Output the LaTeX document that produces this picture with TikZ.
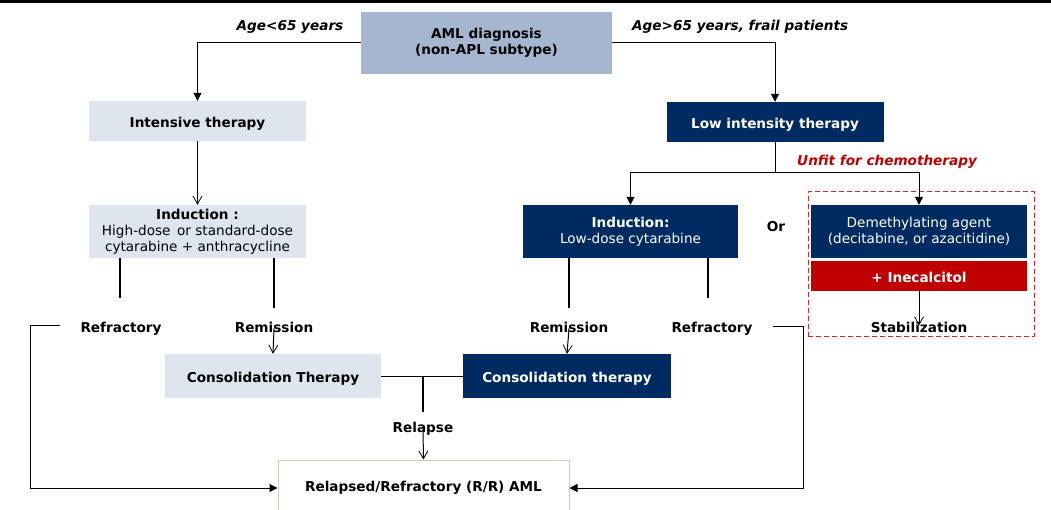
\documentclass[tikz,border=0pt]{standalone}
\usepackage{fontspec}
\setmainfont{DejaVu Sans}
\usetikzlibrary{arrows.meta,positioning}
\definecolor{amlblue}{RGB}{164,182,208}
\definecolor{lightbox}{RGB}{222,229,239}
\definecolor{navy}{RGB}{0,43,98}
\definecolor{darkred}{RGB}{192,0,0}
\definecolor{dashred}{RGB}{210,40,40}
\definecolor{tan}{RGB}{216,208,184}
\tikzset{
  base/.style={inner sep=0pt, align=center, font=\fontsize{13.6}{16}\selectfont},
  oneline/.style={text height=13pt, text depth=0pt},
  lightnode/.style={base, fill=lightbox, text=black},
  navynode/.style={base, fill=navy, text=white},
  lbl/.style={base, anchor=base, font=\fontsize{13.6}{16}\selectfont\bfseries},
  cond/.style={base, font=\fontsize{13.6}{16}\selectfont\bfseries\itshape},
  conn/.style={line width=1pt, black},
  stub/.style={line width=1.8pt, black},
  filledarrow/.style={-{Triangle[width=8pt,length=8pt]}},
  openarrow/.style={-{Straight Barb[width=9pt,length=8pt,line width=0.8pt]}}
}
\begin{document}
\begin{tikzpicture}[x=1pt,y=-1pt]
\useasboundingbox (0,0) rectangle (1051,510);
\fill[white] (0,0) rectangle (1051,510);
\draw[line width=3pt] (0,1.5) -- (1051,1.5);

% boxes
\node[base, fill=amlblue, minimum width=251pt, minimum height=62pt] (aml) at (486.5,43)
  {\bfseries AML diagnosis\\\bfseries(non-APL subtype)};
\node[lightnode, oneline, minimum width=217pt, minimum height=40pt] (int) at (197.5,121) {\bfseries Intensive therapy};
\node[navynode, oneline, minimum width=217pt, minimum height=40pt] (low) at (775,122) {\bfseries Low intensity therapy};
\node[lightnode, minimum width=217pt, minimum height=53pt] (indL) at (197.5,231.5)
  {\bfseries Induction :\\High-dose\, or standard-dose\\cytarabine + anthracycline};
\node[navynode, minimum width=215pt, minimum height=53pt] (indR) at (630.5,231.5)
  {\bfseries Induction:\\Low-dose cytarabine};
\node[draw=dashred, dash pattern=on 5pt off 3pt, line width=1pt, minimum width=226pt, minimum height=144pt, inner sep=0pt] (unfitbox) at (921,264) {};
\node[navynode, minimum width=216pt, minimum height=53pt] (dem) at (919,231.5)
  {Demethylating agent\\(decitabine, or azacitidine)};
\node[base, oneline, fill=darkred, text=white, minimum width=216pt, minimum height=30pt] (ine) at (919,276)
  {\bfseries + Inecalcitol};
\node[lightnode, oneline, minimum width=216pt, minimum height=44pt] (consL) at (273,376) {\bfseries Consolidation Therapy};
\node[navynode, oneline, minimum width=208pt, minimum height=44pt] (consR) at (567,376) {\bfseries Consolidation therapy};
\node[base, draw=tan, fill=white, line width=1pt, minimum width=291pt, minimum height=56pt] (rr) at (423.5,488)
  {\bfseries Relapsed/Refractory (R/R) AML};

% labels
\node[cond] (young) at (290,27) {Age<65 years};
\node[cond, anchor=west] (old) at (632,27) {Age>65 years, frail patients};
\node[cond, text=darkred, anchor=west] (unfit) at (797,162) {Unfit for chemotherapy};
\node[lbl] (refL) at (121,332) {Refractory};
\node[lbl] (remL) at (274,332) {Remission};
\node[lbl] (remR) at (569,332) {Remission};
\node[lbl] (refR) at (712,332) {Refractory};
\node[lbl] (stab) at (919,332) {Stabilization};
\node[lbl] (or) at (776,232) {Or};
\node[lbl] (relapse) at (423,432) {Relapse};

% coordinates
\coordinate (split) at (775,173);
\coordinate (refLend) at (60,325);
\coordinate (refLcorner) at (30,325);
\coordinate (refRend) at (773,326);
\coordinate (refRcorner) at (803,326);
\coordinate (relj) at (423,376);
\coordinate (relend) at (423,412);
\coordinate (sLa) at (120,298);
\coordinate (sLb) at (274,308);
\coordinate (sRa) at (569,308);
\coordinate (sRb) at (708,298);

% connectors
\draw[conn, filledarrow] (aml.west) -| (int.north);
\draw[conn, filledarrow] (aml.east) -| (low.north);
\draw[conn, openarrow] (int.south) -- (indL.north);
\draw[conn] (low.south) -- (split);
\draw[conn, filledarrow] (split) -| (indR.north);
\draw[conn, filledarrow] (split) -| (dem.north);
\draw[stub] (indL.south -| sLa) -- (sLa);
\draw[stub] (indL.south -| sLb) -- (sLb);
\draw[stub] (indR.south -| sRa) -- (sRa);
\draw[stub] (indR.south -| sRb) -- (sRb);
\draw[conn, openarrow] ([yshift=4pt]remL.south) -- (consL.north);
\draw[conn, openarrow] ([yshift=4pt]remR.south) -- (consR.north);
\draw[conn, openarrow] (ine.south) -- ([yshift=-4pt]stab.north);
\draw[conn] (consL.east) -- (consR.west);
\draw[stub] (relj) -- (relend);
\draw[conn, openarrow] ([yshift=4pt]relapse.south) -- (rr.north);
\draw[conn, filledarrow] (refLend) -- (refLcorner) |- (rr.west);
\draw[conn, filledarrow] (refRend) -- (refRcorner) |- (rr.east);
\end{tikzpicture}
\end{document}
